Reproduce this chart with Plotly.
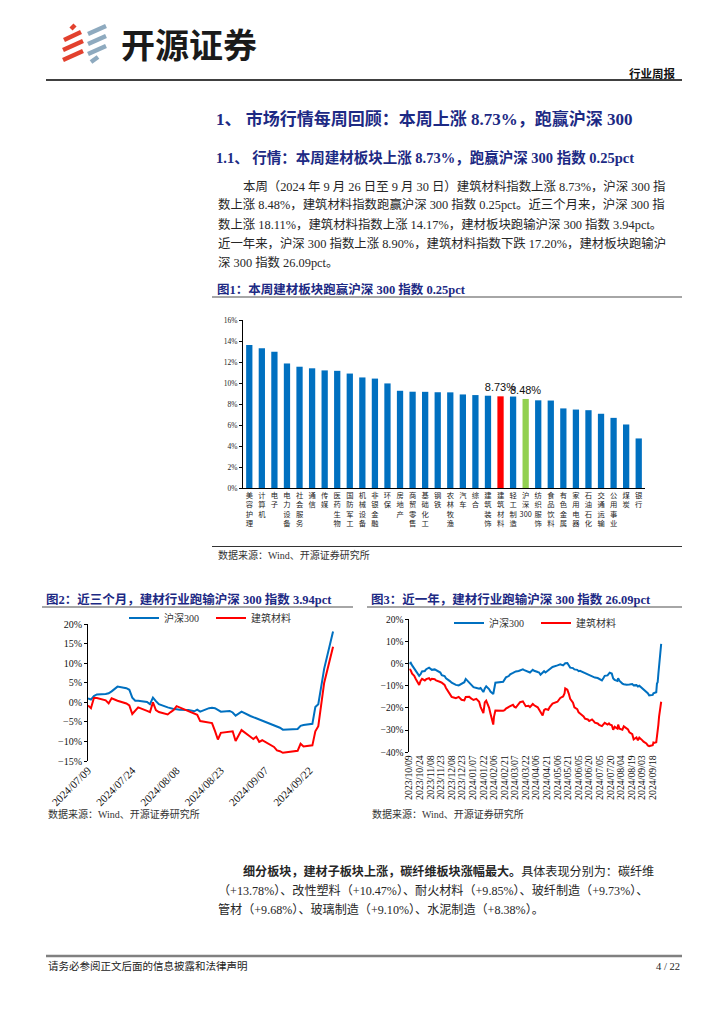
import plotly.graph_objects as go

# Page is drawn inside the browser body (8 px default margin), so the figure is
# 708x1008 and every page coordinate below is given in reference-page pixels.
OX, OY = 8, 8
W, H = 708, 1008


def px(x):
    return (x - OX) / W


def py(y):
    return 1 - (y - OY) / H


# ---------------- data ----------------
industries = ["美容护理", "计算机", "电子", "电力设备", "社会服务", "通信", "传媒", "医药生物",
              "国防军工", "机械设备", "非银金融", "环保", "房地产", "商贸零售", "基础化工", "钢铁",
              "农林牧渔", "汽车", "综合", "建筑装饰", "建筑材料", "轻工制造", "沪深300", "纺织服饰",
              "食品饮料", "有色金属", "家用电器", "石油石化", "交通运输", "公用事业", "煤炭", "银行"]
weekly_change = [13.61, 13.30, 12.98, 11.86, 11.55, 11.40, 11.20, 11.16,
                 10.90, 10.53, 10.42, 9.96, 9.26, 9.17, 9.16, 9.12,
                 9.11, 8.91, 8.85, 8.79, 8.73, 8.71, 8.48, 8.35,
                 8.33, 7.58, 7.47, 7.41, 7.07, 6.68, 6.05, 4.72]
labelled = ["建筑材料", "沪深300"]

dates_3m = ["2024-07-09", "2024-07-10", "2024-07-11", "2024-07-12", "2024-07-15", "2024-07-16",
            "2024-07-17", "2024-07-18", "2024-07-19", "2024-07-22", "2024-07-23", "2024-07-24",
            "2024-07-25", "2024-07-26", "2024-07-29", "2024-07-30", "2024-07-31", "2024-08-01",
            "2024-08-02", "2024-08-05", "2024-08-06", "2024-08-07", "2024-08-08", "2024-08-09",
            "2024-08-12", "2024-08-13", "2024-08-14", "2024-08-15", "2024-08-16", "2024-08-19",
            "2024-08-20", "2024-08-21", "2024-08-22", "2024-08-23", "2024-08-26", "2024-08-27",
            "2024-08-28", "2024-08-29", "2024-08-30", "2024-09-02", "2024-09-03", "2024-09-04",
            "2024-09-05", "2024-09-06", "2024-09-09", "2024-09-10", "2024-09-11", "2024-09-12",
            "2024-09-13", "2024-09-18", "2024-09-19", "2024-09-20", "2024-09-23", "2024-09-24",
            "2024-09-25", "2024-09-26", "2024-09-27", "2024-09-30"]
hs300_3m = [1.0, 0.7, 1.6, 2.0, 2.1, 2.3,
            2.8, 3.3, 4.0, 3.6, 3.2, 1.2,
            0.4, 0.4, 0.1, -0.5, 1.2, 0.3,
            -0.5, -1.3, -1.6, -1.7, -1.8, -1.9,
            -2.0, -2.1, -2.3, -1.9, -2.4, -1.5,
            -1.4, -1.5, -1.9, -2.4, -2.2, -2.6,
            -3.4, -2.9, -2.4, -3.5, -3.8, -4.1,
            -4.3, -4.6, -5.6, -5.9, -6.2, -6.5,
            -7.0, -6.8, -6.0, -5.8, -5.5, -1.2,
            -0.5, 3.6, 8.6, 18.11]
jiancai_3m = [-0.8, -1.5, 1.1, 1.1, 0.5, -0.3,
              1.0, 0.7, 0.4, -0.3, -0.8, -3.0,
              -2.2, -1.3, -2.2, -2.5, 0.0, -2.0,
              -2.5, -3.1, -2.5, -2.0, -1.0, -1.3,
              -2.2, -2.4, -2.7, -3.2, -4.8, -5.1,
              -5.3, -7.3, -9.5, -7.8, -7.6, -7.4,
              -9.9, -8.5, -7.1, -8.8, -9.4, -8.8,
              -10.1, -9.7, -11.0, -11.4, -12.3, -12.5,
              -12.9, -12.4, -10.6, -11.3, -11.0, -7.4,
              -6.1, -0.2, 5.0, 14.17]
ticks_3m = ["2024-07-09", "2024-07-24", "2024-08-08", "2024-08-23", "2024-09-07", "2024-09-22"]

dates_1y = ["2023-10-09", "2023-10-11", "2023-10-13", "2023-10-16", "2023-10-18", "2023-10-20",
            "2023-10-23", "2023-10-25", "2023-10-27", "2023-10-31", "2023-11-02", "2023-11-06",
            "2023-11-08", "2023-11-10", "2023-11-14", "2023-11-16", "2023-11-20", "2023-11-22",
            "2023-11-24", "2023-11-28", "2023-11-30", "2023-12-04", "2023-12-06", "2023-12-08",
            "2023-12-12", "2023-12-14", "2023-12-18", "2023-12-20", "2023-12-22", "2023-12-26",
            "2023-12-28", "2024-01-02", "2024-01-04", "2024-01-08", "2024-01-10", "2024-01-12",
            "2024-01-16", "2024-01-18", "2024-01-22", "2024-01-24", "2024-01-26", "2024-01-30",
            "2024-02-01", "2024-02-05", "2024-02-06", "2024-02-08", "2024-02-19", "2024-02-21",
            "2024-02-23", "2024-02-27", "2024-02-29", "2024-03-04", "2024-03-06", "2024-03-08",
            "2024-03-12", "2024-03-14", "2024-03-18", "2024-03-20", "2024-03-22", "2024-03-26",
            "2024-03-28", "2024-04-01", "2024-04-03", "2024-04-08", "2024-04-10", "2024-04-12",
            "2024-04-15", "2024-04-17", "2024-04-19", "2024-04-23", "2024-04-25", "2024-04-29",
            "2024-05-06", "2024-05-08", "2024-05-10", "2024-05-14", "2024-05-16", "2024-05-17",
            "2024-05-20", "2024-05-22", "2024-05-24", "2024-05-28", "2024-05-30", "2024-06-03",
            "2024-06-05", "2024-06-07", "2024-06-12", "2024-06-14", "2024-06-18", "2024-06-20",
            "2024-06-24", "2024-06-26", "2024-06-28", "2024-07-02", "2024-07-04", "2024-07-08",
            "2024-07-10", "2024-07-12", "2024-07-16", "2024-07-18", "2024-07-19", "2024-07-22",
            "2024-07-24", "2024-07-26", "2024-07-30", "2024-07-31", "2024-08-02", "2024-08-06",
            "2024-08-08", "2024-08-12", "2024-08-14", "2024-08-16", "2024-08-20", "2024-08-22",
            "2024-08-26", "2024-08-28", "2024-08-30", "2024-09-03", "2024-09-05", "2024-09-09",
            "2024-09-11", "2024-09-13", "2024-09-18", "2024-09-19", "2024-09-20", "2024-09-23",
            "2024-09-24", "2024-09-25", "2024-09-26", "2024-09-27", "2024-09-30"]
hs300_1y = [0.0, 0.4, -0.8, -2.2, -3.5, -4.6,
            -5.5, -4.8, -3.5, -3.3, -2.5, -1.8,
            -2.4, -2.8, -2.6, -3.0, -3.4, -4.0,
            -5.2, -5.6, -6.6, -7.3, -8.0, -8.6,
            -9.2, -9.6, -9.8, -9.4, -9.1, -8.4,
            -6.9, -8.6, -9.6, -10.6, -10.8, -10.9,
            -11.3, -11.0, -12.8, -11.2, -10.2, -11.5,
            -12.6, -13.7, -11.5, -8.6, -8.2, -7.0,
            -6.2, -5.6, -4.8, -4.2, -3.8, -3.5,
            -3.3, -3.0, -2.6, -2.9, -3.2, -3.6,
            -4.0, -2.8, -3.2, -3.8, -4.0, -5.0,
            -3.9, -3.4, -4.0, -3.0, -2.4, -1.5,
            -0.8, -0.6, -0.3, -0.8, -0.2, 0.2,
            0.3, -1.0, -1.8, -2.0, -2.6, -2.8,
            -3.4, -3.2, -4.0, -4.0, -4.6, -5.2,
            -5.6, -6.0, -6.3, -6.5, -7.0, -7.6,
            -6.6, -5.5, -5.3, -4.6, -4.1, -4.5,
            -6.7, -7.3, -7.8, -6.6, -7.8, -9.0,
            -9.3, -9.5, -9.6, -9.4, -9.2, -9.8,
            -9.7, -10.3, -10.0, -11.0, -11.5, -12.6,
            -13.3, -14.3, -14.1, -13.4, -13.2, -12.9,
            -9.0, -8.4, -4.6, 0.0, 8.90]
jiancai_1y = [-2.4, -3.0, -4.5, -5.5, -6.8, -8.2,
              -9.6, -7.8, -6.9, -7.6, -7.0, -6.6,
              -7.4, -6.8, -7.0, -7.6, -7.9, -8.3,
              -8.6, -9.6, -11.0, -13.2, -14.3, -15.0,
              -15.4, -15.6, -15.0, -15.8, -16.3, -16.6,
              -15.0, -14.9, -15.6, -16.4, -16.2, -15.9,
              -17.2, -19.5, -22.3, -17.5, -16.7, -19.8,
              -22.5, -27.5, -24.0, -21.2, -21.3, -21.0,
              -20.3, -19.8, -19.2, -18.6, -19.5, -19.8,
              -18.2, -17.4, -17.0, -18.0, -19.2, -19.0,
              -19.6, -18.2, -18.8, -19.7, -20.5, -21.8,
              -23.4, -21.0, -20.5, -20.8, -19.6, -18.0,
              -17.2, -16.4, -15.5, -14.8, -13.5, -11.2,
              -11.8, -13.5, -15.9, -17.6, -19.7, -20.5,
              -22.0, -22.5, -23.8, -24.8, -25.2, -25.9,
              -25.2, -25.8, -26.6, -27.0, -27.6, -28.2,
              -27.2, -26.7, -27.5, -27.0, -27.4, -27.8,
              -29.8, -28.5, -29.3, -27.5, -29.4, -29.8,
              -28.3, -29.1, -29.7, -31.0, -31.8, -34.2,
              -33.3, -34.6, -33.4, -34.5, -35.2, -36.0,
              -36.9, -37.2, -36.8, -35.6, -35.8, -35.5,
              -32.9, -31.9, -27.6, -23.9, -17.20]
ticks_1y = ["2023-10-09", "2023-10-24", "2023-11-08", "2023-11-23", "2023-12-08", "2023-12-23",
            "2024-01-07", "2024-01-22", "2024-02-06", "2024-02-21", "2024-03-07", "2024-03-22",
            "2024-04-06", "2024-04-21", "2024-05-06", "2024-05-21", "2024-06-05", "2024-06-20",
            "2024-07-05", "2024-07-20", "2024-08-04", "2024-08-19", "2024-09-03", "2024-09-18"]
series_names = ["沪深300", "建筑材料"]

# ---------------- styles ----------------
BLUE = "#0070C0"
RED = "#FF0000"
GREEN = "#92D050"
NAVY = "#1d2a84"
TXT = "#262626"
SERIF = "Liberation Serif, Noto Sans CJK SC"
CJK = "Noto Sans CJK SC"

fig = go.Figure()

# ---- chart 1: bars ----
bar_colors = [RED if c == "建筑材料" else GREEN if c == "沪深300" else BLUE for c in industries]
bar_text = [f"{v:.2f}%" if c in labelled else "" for c, v in zip(industries, weekly_change)]
fig.add_trace(go.Bar(
    x=industries, y=weekly_change, marker=dict(color=bar_colors, line=dict(width=0)),
    text=bar_text, textposition="outside", constraintext="none", cliponaxis=False,
    textfont=dict(family="Liberation Sans", size=11, color="#111"),
    xaxis="x", yaxis="y", showlegend=False, hoverinfo="skip"))


def stack(name):
    if name.endswith("300"):
        return "<br>".join(list(name[:-3])) + "<br>300"
    return "<br>".join(list(name))


# ---- chart 2 / chart 3 lines ----
for name, vals, col in [(series_names[0], hs300_3m, BLUE), (series_names[1], jiancai_3m, RED)]:
    fig.add_trace(go.Scatter(x=dates_3m, y=vals, mode="lines", name=name,
                             line=dict(color=col, width=2), xaxis="x2", yaxis="y2",
                             legend="legend", hoverinfo="skip"))
for name, vals, col in [(series_names[0], hs300_1y, BLUE), (series_names[1], jiancai_1y, RED)]:
    fig.add_trace(go.Scatter(x=dates_1y, y=vals, mode="lines", name=name,
                             line=dict(color=col, width=2), xaxis="x3", yaxis="y3",
                             legend="legend2", hoverinfo="skip"))

# ---- axes geometry ----
y2_dom = [py(761), py(624)]
y2_rng = [-15, 20]
y3_dom = [py(752.3), py(619.3)]
y3_rng = [-40, 20]


def zero_pos(dom, rng):
    return dom[0] + (0 - rng[0]) / (rng[1] - rng[0]) * (dom[1] - dom[0])


x2_rng = ["2024-07-09", "2024-10-01"]
x3_rng = ["2023-10-09", "2024-10-03"]

tickfont_s = dict(family=SERIF, size=10, color="#111")
legend_common = dict(orientation="h", xanchor="left", yanchor="middle",
                     font=dict(family=SERIF, size=10, color="#333"),
                     bgcolor="rgba(0,0,0,0)", itemwidth=30, tracegroupgap=0,
                     entrywidth=42, entrywidthmode="pixels")

fig.update_layout(
    width=W, height=H, autosize=False,
    margin=dict(l=0, r=0, t=0, b=0, pad=0, autoexpand=False),
    paper_bgcolor="white", plot_bgcolor="white",
    bargap=0.5,
    xaxis=dict(domain=[px(243), px(645)], anchor="y", type="category",
               tickvals=industries, ticktext=[stack(c) for c in industries],
               tickfont=dict(family=CJK, size=7.3, color="#222"), tickangle=0,
               showline=True, linecolor="black", linewidth=1, ticks="", showgrid=False,
               automargin=False, fixedrange=True),
    yaxis=dict(domain=[py(488), py(320)], anchor="x", range=[0, 16], dtick=2,
               ticksuffix="%", showline=True, linecolor="black", linewidth=1,
               ticks="outside", ticklen=3, tickcolor="black",
               tickfont=dict(family=SERIF, size=7.5, color="#222"),
               showgrid=False, zeroline=False, automargin=False),
    xaxis2=dict(domain=[px(88), px(336)], anchor="y2", type="date", range=x2_rng,
                tickvals=ticks_3m, ticktext=[t.replace("-", "/") for t in ticks_3m],
                tickangle=-45, tickfont=dict(family=SERIF, size=11, color="#111"),
                showline=False, ticks="", showgrid=False, zeroline=False, automargin=False),
    yaxis2=dict(domain=y2_dom, anchor="x2", range=y2_rng, dtick=5, ticksuffix="%",
                showline=True, linecolor="black", linewidth=1, ticks="outside",
                ticklen=3, tickcolor="black", tickfont=tickfont_s,
                showgrid=False, zeroline=False, automargin=False),
    xaxis4=dict(overlaying="x2", anchor="free", position=zero_pos(y2_dom, y2_rng),
                type="date", range=x2_rng, tickvals=ticks_3m, side="top",
                ticks="outside", ticklen=3, tickcolor="black", showticklabels=False,
                showline=True, linecolor="black", linewidth=1, showgrid=False,
                automargin=False),
    xaxis3=dict(domain=[px(409.3), px(663.3)], anchor="y3", type="date", range=x3_rng,
                tickvals=ticks_1y, ticktext=[t.replace("-", "/") for t in ticks_1y],
                tickangle=-90, tickfont=dict(family=SERIF, size=9.8, color="#111"),
                showline=False, ticks="", showgrid=False, zeroline=False, automargin=False),
    yaxis3=dict(domain=y3_dom, anchor="x3", range=y3_rng, dtick=10, ticksuffix="%",
                showline=True, linecolor="black", linewidth=1, ticks="outside",
                ticklen=3, tickcolor="black",
                tickfont=dict(family=SERIF, size=9.5, color="#111"),
                showgrid=False, zeroline=False, automargin=False),
    xaxis5=dict(overlaying="x3", anchor="free", position=zero_pos(y3_dom, y3_rng),
                type="date", range=x3_rng, tickvals=ticks_1y, side="top",
                ticks="outside", ticklen=3, tickcolor="black", showticklabels=False,
                showline=True, linecolor="black", linewidth=1, showgrid=False,
                automargin=False),
    legend=dict(x=px(124), y=py(618), **legend_common),
    legend2=dict(x=px(449), y=py(623), **legend_common),
)

# ---------------- page decoration ----------------
shapes = []


def hline(x0, x1, y, color, width):
    shapes.append(dict(type="line", xref="paper", yref="paper", x0=px(x0), x1=px(x1),
                       y0=py(y), y1=py(y), line=dict(color=color, width=width)))


hline(46, 682, 80, "#000000", 1.5)
hline(212, 682, 297, "#a6a6a6", 2)
hline(212, 682, 546.5, "#333333", 1)
hline(42, 353, 607, "#a6a6a6", 2)
hline(367, 682, 607, "#a6a6a6", 2)
hline(46, 682, 956, "#808080", 2.5)

# logo stripes
for (x0, y0, x1, y1) in [(71, 29, 75, 25), (64, 40, 81, 32), (63, 50, 83, 41), (63, 60, 83, 51)]:
    shapes.append(dict(type="line", xref="paper", yref="paper", x0=px(x0), y0=py(y0),
                       x1=px(x1), y1=py(y1), line=dict(color="#e2412e", width=4.5)))
for (x0, y0, x1, y1) in [(88, 34, 106, 26), (88, 44, 106, 36), (88, 54, 106, 46), (91, 62, 98, 57)]:
    shapes.append(dict(type="line", xref="paper", yref="paper", x0=px(x0), y0=py(y0),
                       x1=px(x1), y1=py(y1), line=dict(color="#8eaabf", width=4.5)))

annotations = []


def text(x, y, s, size, color=TXT, family=SERIF, anchor="left"):
    annotations.append(dict(x=px(x), y=py(y), xref="paper", yref="paper", text=s,
                            showarrow=False, xanchor=anchor, yanchor="middle",
                            font=dict(family=family, size=size, color=color)))


text(119, 44, "<b>开源证券</b>", 34, "#1a1a1a", CJK)
text(678, 74, "<b>行业周报</b>", 11.5, "#111", SERIF, "right")

text(214, 119, "<b>1、 市场行情每周回顾：本周上涨 8.73%，跑赢沪深 300</b>", 17, NAVY)
text(214, 157, "<b>1.1、 行情：本周建材板块上涨 8.73%，跑赢沪深 300 指数 0.25pct</b>", 14.5, NAVY)

body = [
    (241, "本周（2024 年 9 月 26 日至 9 月 30 日）建筑材料指数上涨 8.73%，沪深 300 指"),
    (216, "数上涨 8.48%，建筑材料指数跑赢沪深 300 指数 0.25pct。近三个月来，沪深 300 指"),
    (216, "数上涨 18.11%，建筑材料指数上涨 14.17%，建材板块跑输沪深 300 指数 3.94pct。"),
    (216, "近一年来，沪深 300 指数上涨 8.90%，建筑材料指数下跌 17.20%，建材板块跑输沪"),
    (216, "深 300 指数 26.09pct。"),
]
for i, (x, s) in enumerate(body):
    text(x, 186 + 19 * i, s, 12.4)

text(215, 289, "<b>图1：本周建材板块跑赢沪深 300 指数 0.25pct</b>", 12.5, NAVY)
text(216, 555, "数据来源：Wind、开源证券研究所", 10, "#333")

text(44, 599, "<b>图2：近三个月，建材行业跑输沪深 300 指数 3.94pct</b>", 12.5, NAVY)
text(369, 599, "<b>图3：近一年，建材行业跑输沪深 300 指数 26.09pct</b>", 12.5, NAVY)
text(46, 814, "数据来源：Wind、开源证券研究所", 10, "#333")
text(370, 814, "数据来源：Wind、开源证券研究所", 10, "#333")

text(241, 871, "<b>细分板块，建材子板块上涨，碳纤维板块涨幅最大。</b>具体表现分别为：碳纤维", 12.1)
text(216, 890, "（+13.78%）、改性塑料（+10.47%）、耐火材料（+9.85%）、玻纤制造（+9.73%）、", 12.1)
text(216, 909, "管材（+9.68%）、玻璃制造（+9.10%）、水泥制造（+8.38%）。", 12.1)

text(46, 966, "请务必参阅正文后面的信息披露和法律声明", 10.5, "#222")
text(682, 966, "4 / 22", 10.5, "#222", SERIF, "right")

fig.update_layout(shapes=shapes, annotations=annotations)

fig.write_html("out.html", config={"responsive": False})
